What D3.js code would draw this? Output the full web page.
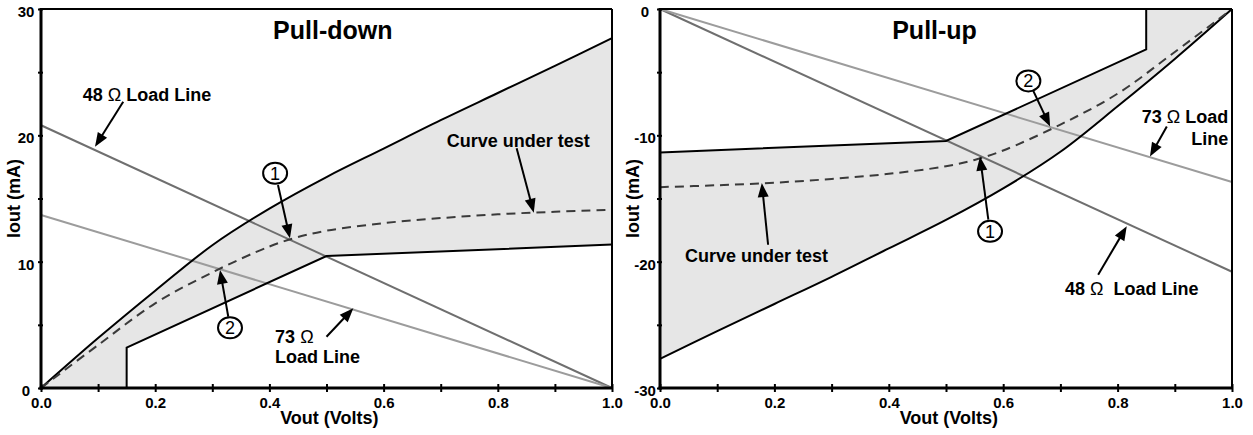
<!DOCTYPE html>
<html lang="en">
<head>
    <meta charset="UTF-8">
    <title>Pull-down / Pull-up V/I curves</title>
    <script src="https://d3js.org/d3.v7.min.js"></script>
    <style>
        body { margin: 0; background: #fff; }
        svg { display: block; font-family: "Liberation Sans", Arial, sans-serif; font-weight: bold; }
        .tick text { font-size: 15px; font-weight: bold; fill: #000; }
        .note { font-size: 18px; white-space: pre; }
    </style>
</head>
<body>

<svg width="1253" height="435"></svg>

<script>
    // x axis (Vout, Volts) - shared by both panels
    const voltTicks = [0, 0.1, 0.2, 0.3, 0.4, 0.5, 0.6, 0.7, 0.8, 0.9, 1.0];
    const voltLabels = [0, 0.2, 0.4, 0.6, 0.8, 1.0];

    // Pull-down panel: Iout (mA)
    const downTicks = [0, 5, 10, 15, 20, 25, 30];
    const downLabels = [0, 10, 20, 30];
    const downUpper = [[0, 0], [0.1, 3.95], [0.2, 7.7], [0.3, 11.3], [0.4, 14.2], [0.5, 16.7],
                       [0.6, 18.95], [0.7, 21.2], [0.8, 23.35], [0.9, 25.5], [1.0, 27.7]];
    const downLower = [[0.15, 0], [0.15, 3.2], [0.5, 10.45], [1.0, 11.35]];
    const downCurve = [[0, 0], [0.1, 3.4], [0.2, 6.7], [0.3, 9.15], [0.4, 11.2], [0.45, 11.95], [0.5, 12.45],
                       [0.6, 13.05], [0.7, 13.45], [0.8, 13.75], [0.9, 13.95], [1.0, 14.1]];
    const down48 = [[0, 20.8], [1.0, 0]];
    const down73 = [[0, 13.7], [1.0, 0]];

    // Pull-up panel: Iout (mA)
    const upTicks = [-30, -25, -20, -15, -10, -5, 0];
    const upLabels = [-30, -20, -10, 0];
    const upUpper = [[0, -11.35], [0.5, -10.45], [0.85, -3.2], [0.85, 0], [1.0, 0]];
    const upLower = [[0, -27.7], [0.1, -25.5], [0.2, -23.35], [0.3, -21.2], [0.4, -18.95], [0.5, -16.7],
                     [0.6, -14.2], [0.7, -11.3], [0.8, -7.7], [0.9, -3.95], [1.0, 0]];
    const upCurve = [[0, -14.1], [0.1, -13.95], [0.2, -13.75], [0.3, -13.45], [0.4, -13.05], [0.5, -12.45], [0.55, -11.95],
                     [0.6, -11.2], [0.7, -9.15], [0.8, -6.7], [0.9, -3.4], [1.0, 0]];
    const up48 = [[0, 0], [1.0, -20.8]];
    const up73 = [[0, 0], [1.0, -13.7]];

    const svg = d3.select("svg");

    // draws one panel
    function drawPanel(p) {
        const x = d3.scaleLinear().domain([0, 1]).range(p.xRange);
        const y = d3.scaleLinear().domain(p.yDomain).range([388, 9]);
        const g = svg.append("g");
        const straight = d3.line().x(d => x(d[0])).y(d => y(d[1]));
        const smooth = d3.line().x(d => x(d[0])).y(d => y(d[1])).curve(d3.curveCatmullRom.alpha(0.5));
        const upperLine = p.smoothUpper ? smooth : straight;
        const lowerLine = p.smoothUpper ? straight : smooth;

        // shaded band between the limits
        const back = lowerLine(p.lower.slice().reverse()).replace(/^M/, "L");
        g.append("path")
            .attr("d", upperLine(p.upper) + back + "Z")
            .attr("fill", "#e6e6e6")
            .attr("stroke", "none");

        // load lines
        g.append("path").attr("d", straight(p.l48)).attr("fill", "none").attr("stroke", "#6f6f6f").attr("stroke-width", 2);
        g.append("path").attr("d", straight(p.l73)).attr("fill", "none").attr("stroke", "#9c9c9c").attr("stroke-width", 2);

        // limit curves
        g.append("path").attr("d", upperLine(p.upper)).attr("fill", "none")
            .attr("stroke", "#000").attr("stroke-width", 2);
        g.append("path").attr("d", lowerLine(p.lower)).attr("fill", "none")
            .attr("stroke", "#000").attr("stroke-width", 2);

        // curve under test
        g.append("path").attr("d", smooth(p.curve)).attr("fill", "none")
            .attr("stroke", "#3a3a3a").attr("stroke-width", 2).attr("stroke-dasharray", "9,6");

        // frame: thin top/right, thick left/bottom
        const [y0, y1] = p.yDomain;
        g.append("line").attr("x1", x(0)).attr("x2", x(1)).attr("y1", y(y1)).attr("y2", y(y1))
            .attr("stroke", "#000").attr("stroke-width", 2);
        g.append("line").attr("x1", x(1)).attr("x2", x(1)).attr("y1", y(y0)).attr("y2", y(y1))
            .attr("stroke", "#000").attr("stroke-width", 2);

        // x axis
        const xa = g.append("g")
            .attr("transform", "translate(0," + y(y0) + ")")
            .call(d3.axisBottom(x).tickValues(voltTicks).tickSize(8)
                .tickFormat(d => voltLabels.includes(d) ? d3.format(".1f")(d) : ""));
        xa.select(".domain").remove();
        xa.selectAll(".tick line").attr("y1", -4).attr("y2", 4).attr("stroke", "#000").attr("stroke-width", 2);
        xa.selectAll(".tick text").attr("y", 9);

        // y axis
        const ya = g.append("g")
            .attr("transform", "translate(" + x(0) + ",0)")
            .call(d3.axisLeft(y).tickValues(p.yTicks).tickSize(4)
                .tickFormat(d => p.yLabels.includes(d) ? String(d) : ""));
        ya.select(".domain").remove();
        ya.selectAll(".tick line").attr("x1", -3).attr("x2", 2).attr("stroke", "#000").attr("stroke-width", 2);
        ya.selectAll(".tick text").attr("x", -15).attr("dy", "0.5em").attr("text-anchor", "middle");

        g.append("line").attr("x1", x(0)).attr("x2", x(0)).attr("y1", y(y0) + 1.5).attr("y2", y(y1) - 1)
            .attr("stroke", "#000").attr("stroke-width", 3);
        g.append("line").attr("x1", x(0) - 1.5).attr("x2", x(1) + 1).attr("y1", y(y0)).attr("y2", y(y0))
            .attr("stroke", "#000").attr("stroke-width", 3);

        // axis titles
        g.append("text")
            .attr("x", x(0.505)).attr("y", y(y0) + 36)
            .attr("text-anchor", "middle")
            .style("font-size", "18px")
            .text("Vout (Volts)");
        g.append("text")
            .attr("transform", "translate(" + (x(0) - 21) + "," + y((y0 + y1) / 2) + ") rotate(-90)")
            .attr("text-anchor", "middle")
            .style("font-size", "18px")
            .text("Iout (mA)");

        // panel title
        g.append("text")
            .attr("x", x(p.title.v)).attr("y", y(p.title.i))
            .attr("text-anchor", "middle")
            .style("font-size", "25px")
            .text(p.title.t);

        // labels (Ω in regular weight)
        p.notes.forEach(n => {
            const t = g.append("text").attr("class", "note")
                .attr("x", x(n.v)).attr("y", y(n.i))
                .attr("text-anchor", n.anchor);
            n.t.split(/(Ω)/).forEach(part => {
                const s = t.append("tspan").text(part);
                if (part === "Ω") s.style("font-weight", "normal");
            });
        });

        // arrows
        p.arrows.forEach(a => {
            const x1 = x(a[0]), y1p = y(a[1]), x2 = x(a[2]), y2p = y(a[3]);
            const ang = Math.atan2(y2p - y1p, x2 - x1);
            const len = 14, hw = 5.5;
            const bx = x2 - len * Math.cos(ang), by = y2p - len * Math.sin(ang);
            g.append("line").attr("x1", x1).attr("y1", y1p)
                .attr("x2", bx + 2 * Math.cos(ang)).attr("y2", by + 2 * Math.sin(ang))
                .attr("stroke", "#000").attr("stroke-width", 2);
            g.append("path")
                .attr("d", "M" + x2 + "," + y2p +
                    "L" + (bx - hw * Math.sin(ang)) + "," + (by + hw * Math.cos(ang)) +
                    "L" + (bx + hw * Math.sin(ang)) + "," + (by - hw * Math.cos(ang)) + "Z")
                .attr("fill", "#000");
        });

        // circled point numbers
        p.marks.forEach(m => {
            g.append("ellipse").attr("cx", x(m.v)).attr("cy", y(m.i))
                .attr("rx", 12).attr("ry", 10.5)
                .attr("fill", "#fff").attr("stroke", "#000").attr("stroke-width", 2);
            g.append("text").attr("x", x(m.v)).attr("y", y(m.i))
                .attr("dy", "0.36em").attr("text-anchor", "middle")
                .style("font-size", "18px").style("font-weight", "normal")
                .text(m.n);
        });
    }

    drawPanel({
        xRange: [41, 612], yDomain: [0, 30], yTicks: downTicks, yLabels: downLabels,
        upper: downUpper, lower: downLower, curve: downCurve, l48: down48, l73: down73, smoothUpper: true,
        title: { t: "Pull-down", v: 0.511, i: 27.6 },
        notes: [
            { t: "48 Ω Load Line", v: 0.073, i: 22.73, anchor: "start" },
            { t: "Curve under test", v: 0.7105, i: 19.1, anchor: "start" },
            { t: "73 Ω", v: 0.41, i: 3.6, anchor: "start" },
            { t: "Load Line", v: 0.41, i: 1.94, anchor: "start" }
        ],
        arrows: [
            [0.144, 22.66, 0.0946, 19.1],
            [0.415, 16.07, 0.436, 11.85],
            [0.328, 5.64, 0.3135, 9.34],
            [0.5, 4.06, 0.547, 6.31],
            [0.833, 18.97, 0.863, 13.88]
        ],
        marks: [{ n: "1", v: 0.41, i: 17.0 }, { n: "2", v: 0.331, i: 4.77 }]
    });

    drawPanel({
        xRange: [660, 1232], yDomain: [-30, 0], yTicks: upTicks, yLabels: upLabels,
        upper: upUpper, lower: upLower, curve: upCurve, l48: up48, l73: up73, smoothUpper: false,
        title: { t: "Pull-up", v: 0.48, i: -2.41 },
        notes: [
            { t: "73 Ω Load", v: 0.9935, i: -9.0, anchor: "end" },
            { t: "Line", v: 0.9935, i: -10.75, anchor: "end" },
            { t: "Curve under test", v: 0.0437, i: -20.04, anchor: "start" },
            { t: "48 Ω  Load Line", v: 0.708, i: -22.6, anchor: "start" }
        ],
        arrows: [
            [0.6526, -6.48, 0.682, -9.3],
            [0.574, -16.68, 0.5594, -11.68],
            [0.886, -9.3, 0.8566, -11.68],
            [0.189, -18.66, 0.178, -13.78],
            [0.766, -21.03, 0.816, -17.2]
        ],
        marks: [{ n: "2", v: 0.644, i: -5.69 }, { n: "1", v: 0.577, i: -17.6 }]
    });
</script>
</body>
</html>
